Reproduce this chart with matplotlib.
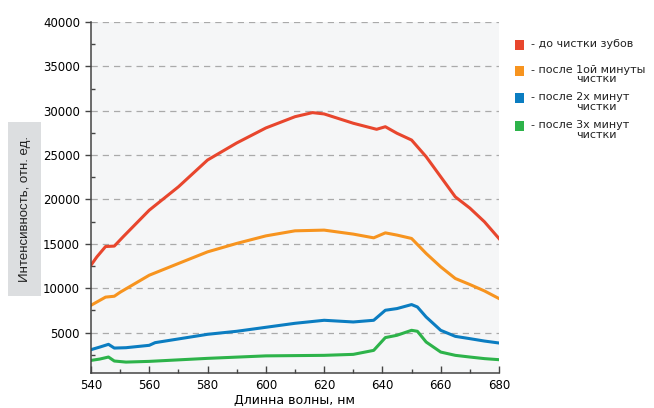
import matplotlib
matplotlib.use("Agg")
import matplotlib.pyplot as plt
from matplotlib.ticker import MultipleLocator
from matplotlib.patches import Rectangle

# wavelength grid (nm) and intensities
wl_red = [540, 542, 545, 548, 551, 560, 570, 580, 590, 600, 610, 616, 620,
          630, 638, 641, 645, 650, 655, 660, 665, 670, 675, 680]
red = [12600, 13530, 14700, 14750, 15790, 18800, 21430, 24450, 26370, 28060,
       29330, 29790, 29640, 28590, 27910, 28200, 27460, 26700, 24820, 22560,
       20300, 19030, 17490, 15600]

wl_orange = [540, 545, 548, 550, 560, 570, 580, 590, 600, 610, 620, 630,
             637, 641, 645, 650, 655, 660, 665, 670, 675, 680]
orange = [8080, 9000, 9100, 9550, 11470, 12790, 14100, 15050, 15900, 16470,
          16550, 16100, 15680, 16240, 15990, 15610, 13920, 12410, 11100,
          10420, 9700, 8840]

wl_blue = [540, 543, 546, 548, 552, 560, 562, 580, 590, 600, 610, 620, 630,
           637, 641, 645, 650, 652, 655, 660, 665, 670, 675, 680]
blue = [3080, 3370, 3680, 3260, 3300, 3570, 3870, 4810, 5150, 5600, 6050,
        6390, 6200, 6390, 7520, 7710, 8160, 7890, 6760, 5260, 4580, 4320,
        4050, 3830]

wl_green = [540, 543, 546, 548, 552, 560, 580, 600, 620, 630, 637, 641, 645,
            650, 652, 655, 660, 665, 670, 675, 680]
green = [1870, 2020, 2250, 1800, 1680, 1760, 2100, 2380, 2440, 2550, 3000,
         4440, 4700, 5260, 5150, 3940, 2810, 2440, 2250, 2070, 1950]

# legend entries: first line, wrapped second line
legend_first = ["- до чистки зубов", "- после 1ой минуты",
                "- после 2х минут", "- после 3х минут"]
legend_second = ["", "чистки", "чистки", "чистки"]
colors = ["#e8462d", "#f7941f", "#0b7dc1", "#2db34a"]

W, H = 654, 408
fig = plt.figure(figsize=(W / 100, H / 100), dpi=100, facecolor="white")
ax = fig.add_axes([91 / W, 1 - 373 / H, 408 / W, 351 / H])
ax.set_facecolor("#f5f6f7")

for x, y, c in zip([wl_red, wl_orange, wl_blue, wl_green],
                   [red, orange, blue, green], colors):
    ax.plot(x, y, color=c, lw=2.2, solid_joinstyle="round")

ax.set_xlim(540, 680)
ax.set_ylim(450, 40000)
ax.xaxis.set_major_locator(MultipleLocator(20))
ax.xaxis.set_minor_locator(MultipleLocator(10))
ax.yaxis.set_major_locator(MultipleLocator(5000))
ax.yaxis.set_minor_locator(MultipleLocator(2500))

ax.grid(axis="y", which="major", color="#aaaaaa", ls=(0, (5, 4)), lw=0.9)
ax.set_axisbelow(True)

for s in ["top", "right"]:
    ax.spines[s].set_visible(False)
for s in ["left", "bottom"]:
    ax.spines[s].set_color("#444444")
    ax.spines[s].set_linewidth(1.1)

ax.tick_params(axis="y", which="major", direction="out", length=4,
               width=1, color="#444444", labelsize=8.5, pad=4)
ax.tick_params(axis="y", which="minor", direction="in", length=3,
               width=1, color="#444444")
ax.tick_params(axis="x", which="major", direction="in", length=5,
               width=1, color="#444444", labelsize=8.5, pad=4)
ax.tick_params(axis="x", which="minor", direction="in", length=3,
               width=1, color="#444444")

ax.set_xlabel("Длинна волны, нм", fontsize=9, labelpad=2)

# grey box behind the y label
fig.patches.append(Rectangle((8 / W, 1 - 296 / H), 33 / W, 174 / H,
                             transform=fig.transFigure, fc="#dcdee0", ec="none"))
fig.text(25 / W, 1 - 209 / H, "Интенсивность, отн. ед.", rotation=90,
         ha="center", va="center", fontsize=9.5, family="Liberation Sans",
         color="#222222")

# legend drawn by hand (second line tucked under the first)
rows_y = [45, 71, 98, 126]
for first, second, c, yy in zip(legend_first, legend_second, colors, rows_y):
    fig.patches.append(Rectangle((515 / W, 1 - (yy + 4.5) / H), 9 / W, 9 / H,
                                 transform=fig.transFigure, fc=c, ec="none"))
    fig.text(531 / W, 1 - (yy - 1) / H, first, ha="left", va="center",
             fontsize=8, color="#222222")
    if second:
        fig.text(576 / W, 1 - (yy + 8.5) / H, second, ha="left", va="center",
                 fontsize=8, color="#222222")

fig.savefig("out.png", dpi=100, facecolor="white")
